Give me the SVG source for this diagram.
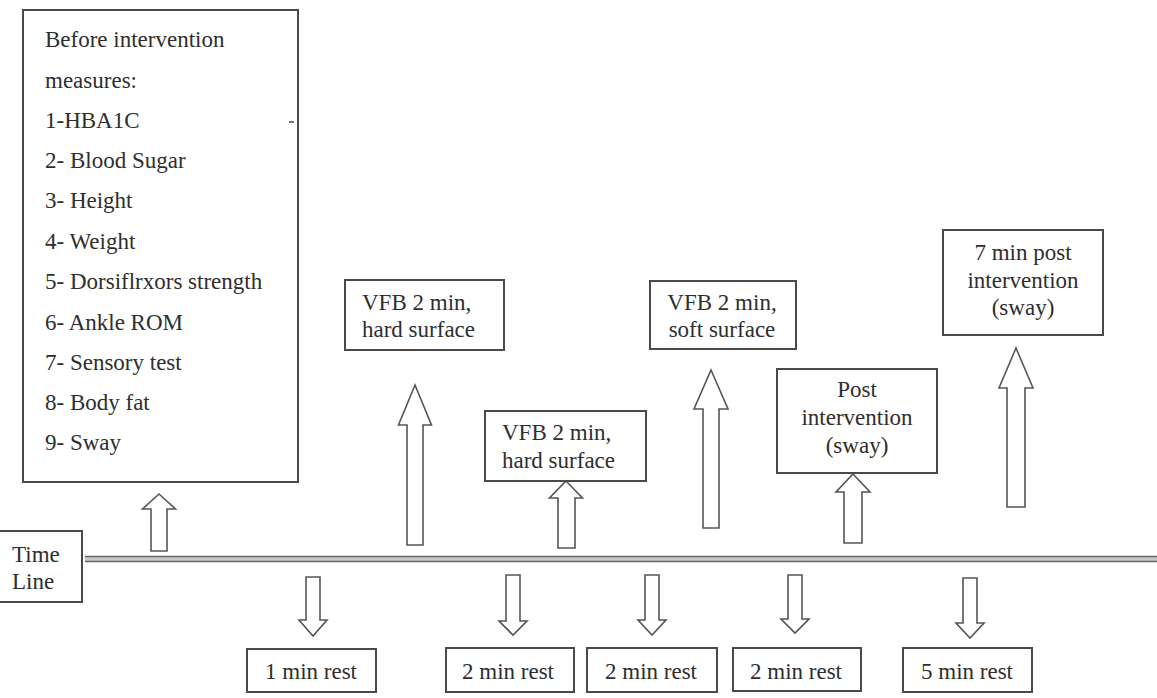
<svg xmlns="http://www.w3.org/2000/svg" width="1157" height="698" viewBox="0 0 1157 698">
<style>
.box{fill:#fff;stroke:#4a4a4a;stroke-width:2}
.arr{fill:#fff;stroke:#555;stroke-width:1.6;stroke-linejoin:miter}
.t{font-family:'Liberation Serif','Times New Roman',serif;font-size:23px;fill:#2e2e2e}
.c{text-anchor:middle}
</style>
<rect width="1157" height="698" fill="#fff"/>
<g id="connectors">
  <g id="timeline">
    <rect x="85" y="556" width="1072" height="6" fill="#c8c8c8"/>
    <line x1="85" y1="556.5" x2="1157" y2="556.5" stroke="#666" stroke-width="1.5"/>
    <line x1="85" y1="561.5" x2="1157" y2="561.5" stroke="#666" stroke-width="1.5"/>
  </g>
  <polygon class="arr" points="159,494 175.5,509 167,509 167,551 151,551 151,509 142.5,509"/>
  <polygon class="arr" points="415,385 431.5,425 423,425 423,545 407,545 407,425 398.5,425"/>
  <polygon class="arr" points="566,481 582.5,498 575,498 575,548 558,548 558,498 549.5,498"/>
  <polygon class="arr" points="711,370 728,409 719,409 719,528 703,528 703,409 694,409"/>
  <polygon class="arr" points="853,474 870,492 862,492 862,543 844,543 844,492 836,492"/>
  <polygon class="arr" points="1016,348 1033,388 1025,388 1025,507 1007,507 1007,388 999,388"/>
  <polygon class="arr" points="306,577 320,577 320,620 327,620 313,636 299,620 306,620"/>
  <polygon class="arr" points="506,575 520,575 520,621 527,621 513,635 499,621 506,621"/>
  <polygon class="arr" points="645,575 659,575 659,620 666,620 652,635 638,620 645,620"/>
  <polygon class="arr" points="788,575 802,575 802,619 809,619 795,633 781,619 788,619"/>
  <polygon class="arr" points="963,578 977,578 977,623 984,623 970,638 956,623 963,623"/>
</g>
<g id="before">
  <rect class="box" x="23" y="10" width="275" height="472"/>
  <line x1="289" y1="122" x2="294" y2="122" stroke="#777" stroke-width="2"/>
  <text class="t" x="45" y="47">Before intervention</text>
  <text class="t" x="45" y="88">measures:</text>
  <text class="t" x="45" y="128">1-HBA1C</text>
  <text class="t" x="45" y="168">2- Blood Sugar</text>
  <text class="t" x="45" y="208">3- Height</text>
  <text class="t" x="45" y="249">4- Weight</text>
  <text class="t" x="45" y="289">5- Dorsiflrxors strength</text>
  <text class="t" x="45" y="330">6- Ankle ROM</text>
  <text class="t" x="45" y="370">7- Sensory test</text>
  <text class="t" x="45" y="410">8- Body fat</text>
  <text class="t" x="45" y="450">9- Sway</text>
</g>
<g id="timelabel">
  <rect class="box" x="-2" y="531" width="84" height="71"/>
  <text class="t" x="12" y="562">Time</text>
  <text class="t" x="12" y="589">Line</text>
</g>
<g id="vfb1">
  <rect class="box" x="345" y="280" width="159" height="70"/>
  <text class="t" x="362" y="310">VFB 2 min,</text>
  <text class="t" x="362" y="337">hard surface</text>
</g>
<g id="vfb2">
  <rect class="box" x="485" y="411" width="161" height="70"/>
  <text class="t" x="502" y="440">VFB 2 min,</text>
  <text class="t" x="502" y="468">hard surface</text>
</g>
<g id="vfb3">
  <rect class="box" x="650" y="281" width="146" height="68"/>
  <text class="t c" x="722" y="310">VFB 2 min,</text>
  <text class="t c" x="722" y="337">soft surface</text>
</g>
<g id="post">
  <rect class="box" x="777" y="369" width="160" height="104"/>
  <text class="t c" x="857" y="397">Post</text>
  <text class="t c" x="857" y="425">intervention</text>
  <text class="t c" x="857" y="453">(sway)</text>
</g>
<g id="post7">
  <rect class="box" x="943" y="230" width="160" height="105"/>
  <text class="t c" x="1023" y="260">7 min post</text>
  <text class="t c" x="1023" y="288">intervention</text>
  <text class="t c" x="1023" y="315">(sway)</text>
</g>
<g id="rest1">
  <rect class="box" x="247" y="649" width="129" height="43"/>
  <text class="t c" x="311" y="679">1 min rest</text>
</g>
<g id="rest2">
  <rect class="box" x="446" y="648" width="128" height="44"/>
  <text class="t c" x="508" y="679">2 min rest</text>
</g>
<g id="rest3">
  <rect class="box" x="587" y="648" width="130" height="44"/>
  <text class="t c" x="651" y="679">2 min rest</text>
</g>
<g id="rest4">
  <rect class="box" x="733" y="648" width="128" height="43"/>
  <text class="t c" x="796" y="679">2 min rest</text>
</g>
<g id="rest5">
  <rect class="box" x="903" y="648" width="129" height="44"/>
  <text class="t c" x="967" y="679">5 min rest</text>
</g>
</svg>
